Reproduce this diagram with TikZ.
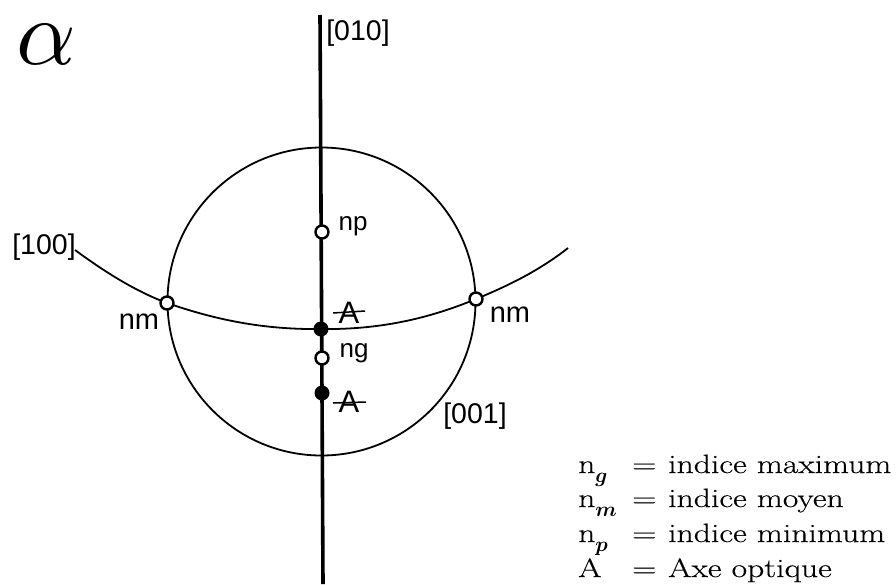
\documentclass[tikz,border=0pt]{standalone}
\usepackage{amsmath}
\usepackage{graphicx}
\usepackage{fontspec}
\newfontfamily\hand{Liberation Sans}
\newfontfamily\legf[FakeStretch=1.27,FakeBold=0.4]{Latin Modern Roman}
\tikzset{
 x=1pt,y=-1pt,
 legend/.style={anchor=base west,inner sep=0pt,font=\legf\fontsize{26.5}{30}\selectfont},
 hw/.style={inner sep=0pt,font=\hand\fontsize{26}{28}\selectfont},
 hwm/.style={inner sep=0pt,font=\hand\fontsize{29}{28}\selectfont},
 hwb/.style={inner sep=0pt,font=\hand\fontsize{28.5}{30}\selectfont},
 hwA/.style={inner sep=0pt,font=\hand\fontsize{31}{31}\selectfont},
 thin line/.style={line width=1.8pt},
 axis/.style={line width=3.6pt},
 open pt/.style={circle,draw=black,fill=white,line width=2.4pt,minimum size=13pt,inner sep=0pt},
 full pt/.style={circle,fill=black,minimum size=15pt,inner sep=0pt},
 strike/.style={line width=1.5pt}
}
\newcommand{\subm}[1]{\raisebox{-9pt}{\fontsize{22}{22}\selectfont$\boldsymbol{#1}$}}
\begin{document}
\begin{tikzpicture}
\useasboundingbox (0,0) rectangle (896,584);
\fill[white] (0,0) rectangle (896,584);
\coordinate (top) at (320,15);
\coordinate (bot) at (323,584);
\coordinate (cL) at (75,250);
\coordinate (cR) at (568,248);
\coordinate (cc) at (321.5,301.5);
\draw[thin line] (cc) circle (154);
\draw[axis] (top) -- (bot);
\coordinate (mL) at (167,303);
\coordinate (mC) at (321,329);
\coordinate (mR) at (476,299);
\draw[thin line] (cL) .. controls (105,272) and (135,291) .. (mL)
  .. controls (205,316) and (255,330) .. (mC)
  .. controls (385,330) and (435,316) .. (mR)
  .. controls (510,285) and (540,270) .. (cR);
\node[open pt] (np) at (322,232) {};
\node[open pt] (ng) at (322,358) {};
\node[open pt] (nmL) at (mL) {};
\node[open pt] (nmR) at (mR) {};
\node[full pt] (A1) at (321,329) {};
\node[full pt] (A2) at (322,393) {};
\node[hw] (lnp) at (353,226) {np};
\node[hw] (lng) at (354,353) {ng};
\node[hwm] (lnmL) at (139,322) {nm};
\node[hwm] (lnmR) at (510,315) {nm};
\node[hwA] (lA1) at (349,313) {A};
\node[hwA] (lA2) at (349,402) {A};
\draw[strike] (333,313) -- (365,311);
\draw[strike] (333,403) -- (366,402);
\node[hwb] (i010) at (358,33) {[010]};
\node[hwb] (i100) at (44,247) {[100]};
\node[hwb] (i001) at (475,416) {[001]};
\node[inner sep=0pt] (alpha) at (46,44) {\scalebox{9.3}{$\alpha$}};
\node[legend] (l1a) at (578,473) {n\subm{g}};
\node[legend] (l1b) at (632,473) {=};
\node[legend] (l1c) at (668,473) {indice maximum};
\node[legend] (l2a) at (578,507) {n\subm{m}};
\node[legend] (l2b) at (632,507) {=};
\node[legend] (l2c) at (668,507) {indice moyen};
\node[legend] (l3a) at (578,542) {n\subm{p}};
\node[legend] (l3b) at (632,542) {=};
\node[legend] (l3c) at (668,542) {indice minimum};
\node[legend] (l4a) at (578,577) {A};
\node[legend] (l4b) at (632,577) {=};
\node[legend] (l4c) at (668,577) {Axe optique};
\end{tikzpicture}
\end{document}
